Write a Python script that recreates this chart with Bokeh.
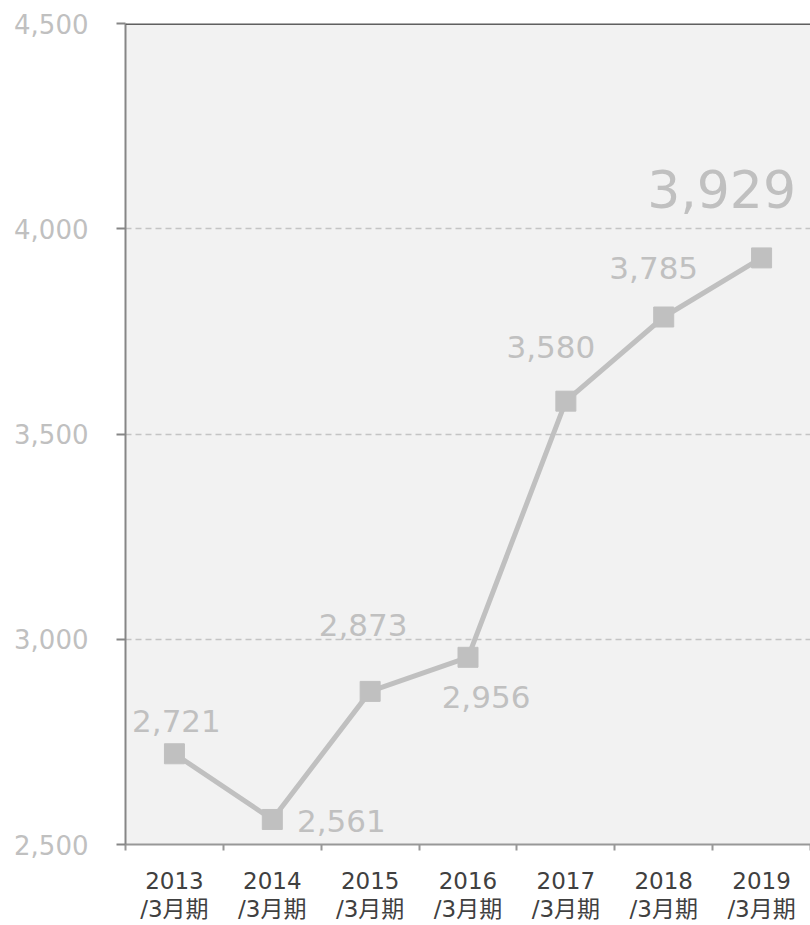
from bokeh.plotting import figure
from bokeh.models import Range1d, FixedTicker, ColumnDataSource, NumeralTickFormatter, Span
from bokeh.core.properties import value
from bokeh.embed import file_html
from bokeh.resources import INLINE

years = ["2013", "2014", "2015", "2016", "2017", "2018", "2019"]
suffix = "/3月期"
sales = [2721, 2561, 2873, 2956, 3580, 3785, 3929]
y_ticks = [2500, 3000, 3500, 4000, 4500]

FONT = "'DejaVu Sans', 'Noto Sans CJK JP', sans-serif"
GRAY = "#c0c0c0"
AXIS = "#868686"

xs = list(range(len(years)))
labels = [f"{v:,}" for v in sales]

# label placement (pixels) and sizes
dx = [2, 69, -7, 18, -15, -10, -40]
dy = [-33, 2, -66, 40, -54, -49, -69]
fs = ["31px"] * 6 + ["52px"]

src = ColumnDataSource(dict(x=xs, y=sales, t=labels, dx=dx, dy=dy, fs=fs))

p = figure(width=810, height=925, output_backend="svg", toolbar_location=None,
           x_range=Range1d(-0.5, len(years) - 0.5), y_range=Range1d(y_ticks[0], y_ticks[-1]),
           min_border_left=125, min_border_right=0, min_border_top=23, min_border_bottom=80)

p.background_fill_color = "#f2f2f2"
p.border_fill_color = "white"
p.outline_line_color = None

# y axis
p.yaxis.ticker = FixedTicker(ticks=y_ticks)
p.yaxis.formatter = NumeralTickFormatter(format="0,0")
p.yaxis.axis_line_color = AXIS
p.yaxis.axis_line_width = 2
p.yaxis.major_tick_line_color = AXIS
p.yaxis.major_tick_line_width = 2
p.yaxis.major_tick_out = 9
p.yaxis.major_tick_in = 0
p.yaxis.minor_tick_line_color = None
p.yaxis.major_label_text_color = GRAY
p.yaxis.major_label_text_font = FONT
p.yaxis.major_label_text_font_size = "26px"
p.yaxis.major_label_standoff = 28

# x axis
p.xaxis.ticker = FixedTicker(ticks=xs, minor_ticks=[i - 0.5 for i in range(len(years) + 1)])
p.xaxis.major_label_overrides = {i: f"{y}\n{suffix}" for i, y in enumerate(years)}
p.xaxis.axis_line_color = "#989898"
p.xaxis.axis_line_width = 2
p.xaxis.major_tick_line_color = None
p.xaxis.major_tick_out = 6
p.xaxis.minor_tick_line_color = "#989898"
p.xaxis.minor_tick_line_width = 2
p.xaxis.minor_tick_out = 6
p.xaxis.minor_tick_in = 0
p.xaxis.major_label_text_color = "#404040"
p.xaxis.major_label_text_font = FONT
p.xaxis.major_label_text_font_size = "23px"
p.xaxis.major_label_text_line_height = 1.1
p.xaxis.major_label_standoff = 17

p.xgrid.grid_line_color = None
p.ygrid.ticker = FixedTicker(ticks=y_ticks[1:-1])
p.ygrid.grid_line_color = "#c4c4c4"
p.ygrid.grid_line_dash = "6 4"
p.ygrid.grid_line_width = 1.5

p.add_layout(Span(location=y_ticks[-1], dimension="width", line_color="#606060", line_width=3))

p.line("x", "y", source=src, line_color=GRAY, line_width=5)
p.scatter("x", "y", source=src, marker="square", size=20, fill_color=GRAY, line_color=GRAY)
p.text("x", "y", text="t", source=src, x_offset="dx", y_offset="dy",
       text_font=value("DejaVu Sans"), text_font_size="fs", text_color=GRAY,
       text_align="center", text_baseline="middle")

open("out.html", "w").write(file_html(p, INLINE))
